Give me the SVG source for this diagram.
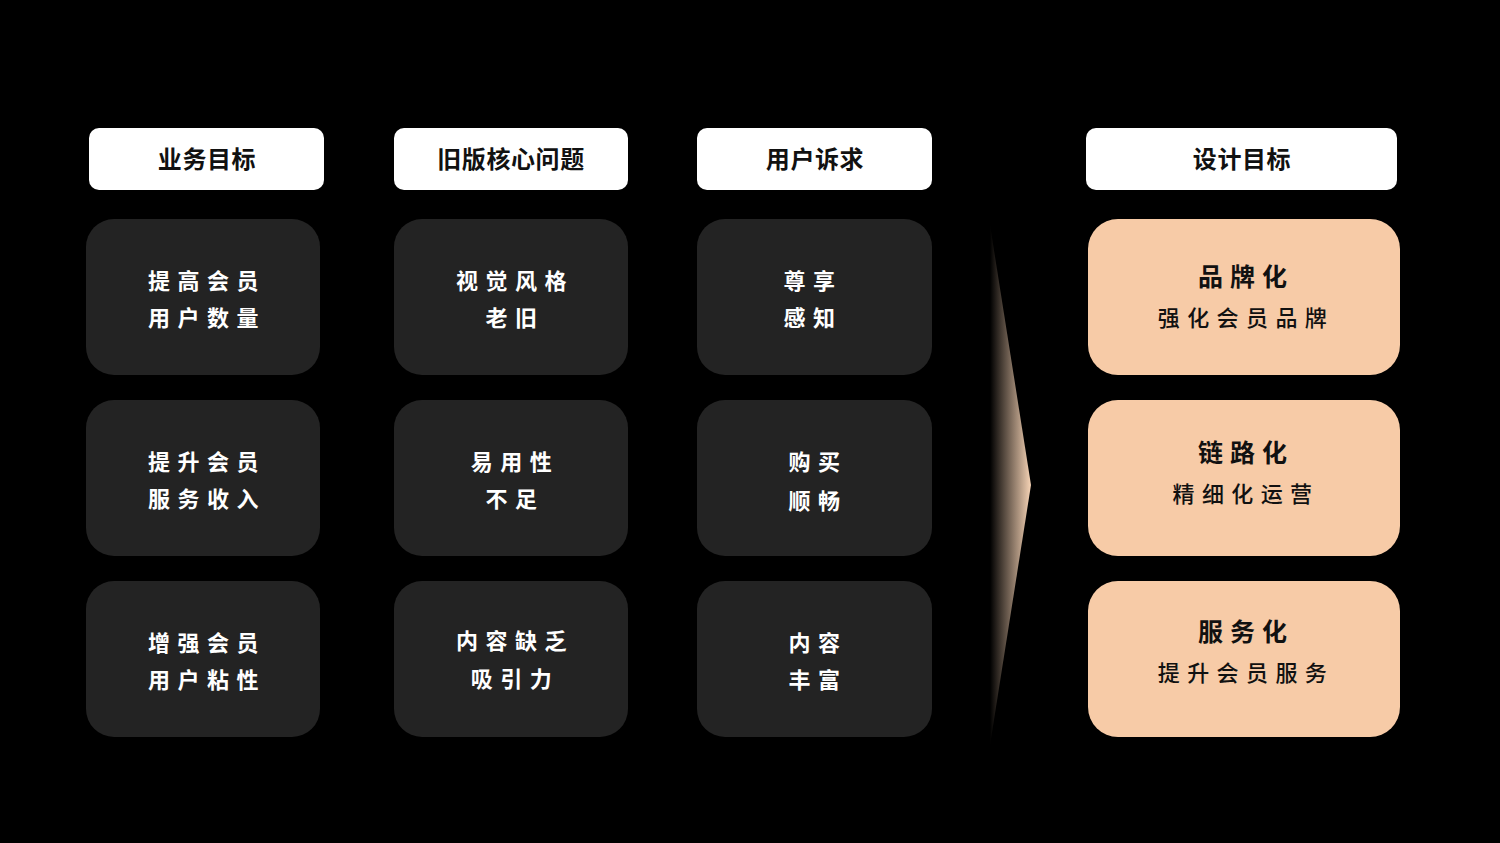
<svg xmlns="http://www.w3.org/2000/svg" width="1500" height="843" viewBox="0 0 1500 843">
<style>
.hd{fill:#ffffff}
.hdt{font-family:"Noto Sans CJK SC","Noto Sans",sans-serif;font-size:24px;font-weight:700;fill:#111;text-anchor:middle;letter-spacing:0.6px}
.db{fill:#232323}
.dt{font-family:"Noto Sans CJK SC","Noto Sans",sans-serif;font-size:22px;font-weight:700;fill:#ffffff;text-anchor:middle;letter-spacing:7.5px}
.ob{fill:#F7CBA7}
.ot{font-family:"Noto Sans CJK SC","Noto Sans",sans-serif;font-size:25px;font-weight:700;fill:#111;text-anchor:middle;letter-spacing:7px}
.os{font-family:"Noto Sans CJK SC","Noto Sans",sans-serif;font-size:22px;font-weight:500;fill:#111;text-anchor:middle;letter-spacing:7.4px}
</style>
<defs>
<linearGradient id="ag" x1="990" y1="0" x2="1031" y2="0" gradientUnits="userSpaceOnUse">
<stop offset="0" stop-color="#000000"/>
<stop offset="1" stop-color="#F7D4B6"/>
</linearGradient>
</defs>
<rect width="1500" height="843" fill="#000000"/>

<g id="h1"><rect class="hd" x="89" y="128" width="235" height="62" rx="10"/><text class="hdt" x="207" y="168">业务目标</text></g>
<g id="h2"><rect class="hd" x="394" y="128" width="234" height="62" rx="10"/><text class="hdt" x="511" y="168">旧版核心问题</text></g>
<g id="h3"><rect class="hd" x="697" y="128" width="235" height="62" rx="10"/><text class="hdt" x="815" y="168">用户诉求</text></g>
<g id="h4"><rect class="hd" x="1086" y="128" width="311" height="62" rx="10"/><text class="hdt" x="1242" y="168">设计目标</text></g>

<g id="b11"><rect class="db" x="86" y="219" width="234" height="156" rx="28"/><text class="dt" x="207" y="289">提高会员</text><text class="dt" x="207" y="326">用户数量</text></g>
<g id="b12"><rect class="db" x="86" y="400" width="234" height="156" rx="28"/><text class="dt" x="207" y="470">提升会员</text><text class="dt" x="207" y="507">服务收入</text></g>
<g id="b13"><rect class="db" x="86" y="581" width="234" height="156" rx="28"/><text class="dt" x="207" y="651">增强会员</text><text class="dt" x="207" y="688">用户粘性</text></g>

<g id="b21"><rect class="db" x="394" y="219" width="234" height="156" rx="28"/><text class="dt" x="515" y="289">视觉风格</text><text class="dt" x="515" y="326">老旧</text></g>
<g id="b22"><rect class="db" x="394" y="400" width="234" height="156" rx="28"/><text class="dt" x="515" y="470">易用性</text><text class="dt" x="515" y="507">不足</text></g>
<g id="b23"><rect class="db" x="394" y="581" width="234" height="156" rx="28"/><text class="dt" x="515" y="649">内容缺乏</text><text class="dt" x="515" y="687">吸引力</text></g>

<g id="b31"><rect class="db" x="697" y="219" width="235" height="156" rx="28"/><text class="dt" x="813" y="289">尊享</text><text class="dt" x="813" y="326">感知</text></g>
<g id="b32"><rect class="db" x="697" y="400" width="235" height="156" rx="28"/><text class="dt" x="818" y="470">购买</text><text class="dt" x="818" y="509">顺畅</text></g>
<g id="b33"><rect class="db" x="697" y="581" width="235" height="156" rx="28"/><text class="dt" x="818" y="651">内容</text><text class="dt" x="818" y="688">丰富</text></g>

<g id="connectors"><polygon points="990,225 1031,485 990,745" fill="url(#ag)"/></g>

<g id="o1"><rect class="ob" x="1088" y="219" width="312" height="156" rx="30"/><text class="ot" x="1246" y="286">品牌化</text><text class="os" x="1246" y="326">强化会员品牌</text></g>
<g id="o2"><rect class="ob" x="1088" y="400" width="312" height="156" rx="30"/><text class="ot" x="1246" y="462">链路化</text><text class="os" x="1246" y="502">精细化运营</text></g>
<g id="o3"><rect class="ob" x="1088" y="581" width="312" height="156" rx="30"/><text class="ot" x="1246" y="641">服务化</text><text class="os" x="1246" y="681">提升会员服务</text></g>
</svg>
